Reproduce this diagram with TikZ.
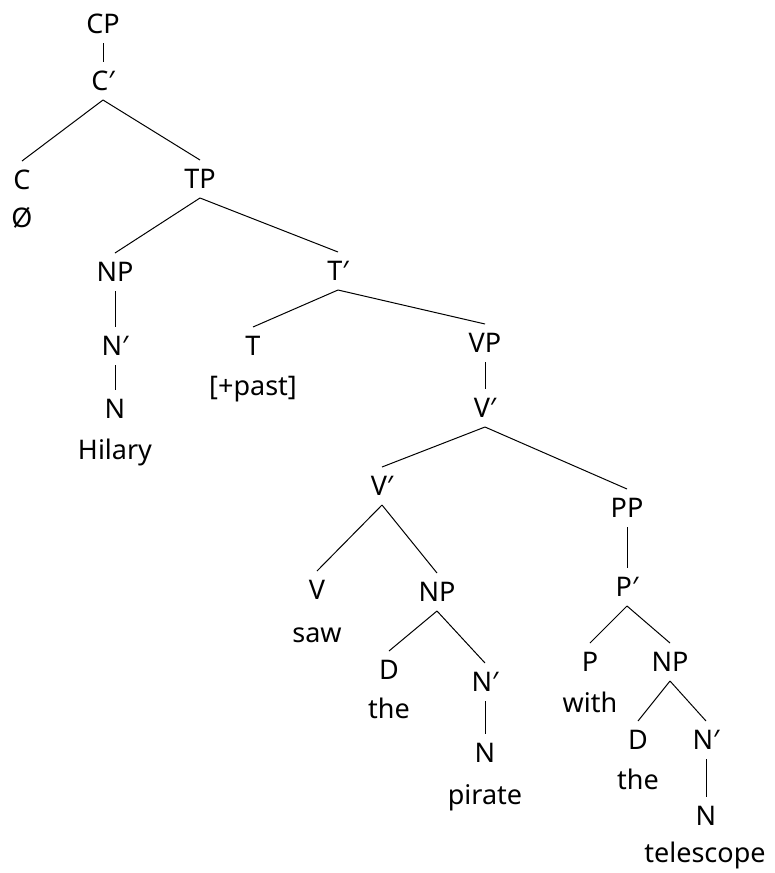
\documentclass[tikz,border=0pt]{standalone}
\usepackage{fontspec}
\setmainfont{Noto Sans}
\usepackage{tikz}
\usetikzlibrary{positioning}

\begin{document}
\begin{tikzpicture}[x=1pt, y=-1pt, line width=1pt]
    \tikzstyle{lbl}=[inner xsep=2pt, inner ysep=9pt, text height=19pt, text depth=0pt, font=\fontsize{27}{32}\selectfont]
    \useasboundingbox (0,0) rectangle (775,873);
    % CP and C'
    \node[lbl] (cp) at (103,24) {CP};
    \node[lbl] (cbar) at (103,81) {C′};
    \node[lbl] (c) at (22,180) {C};
    \node[lbl] (cnull) at (22,218) {Ø};
    \draw (cp.south) -- (cbar.north);
    \draw (cbar.south) -- (c.north);
    % TP, subject and T'
    \node[lbl] (tp) at (200,179) {TP};
    \node[lbl] (np) at (115,272) {NP};
    \node[lbl] (nbar) at (115,346) {N′};
    \node[lbl] (n) at (115,409) {N};
    \node[lbl] (hilary) at (115,450) {Hilary};
    \node[lbl] (tbar) at (338,271) {T′};
    \node[lbl] (t) at (253,346) {T};
    \node[lbl] (past) at (253,386) {[+past]};
    \draw (cbar.south) -- (tp.north);
    \draw (tp.south) -- (np.north);
    \draw (tp.south) -- (tbar.north);
    \draw (np.south) -- (nbar.north);
    \draw (nbar.south) -- (n.north);
    \draw (tbar.south) -- (t.north);
    % VP
    \node[lbl] (vp) at (485,343) {VP};
    \node[lbl] (vbar) at (485,408) {V′};
    \node[lbl] (vbarb) at (382,486) {V′};
    \node[lbl] (v) at (317,590) {V};
    \node[lbl] (saw) at (317,633) {saw};
    \node[lbl] (npb) at (437,592) {NP};
    \node[lbl] (d) at (389,670) {D};
    \node[lbl] (the) at (389,709) {the};
    \node[lbl] (nbarb) at (485,682) {N′};
    \node[lbl] (nb) at (485,753) {N};
    \node[lbl] (pirate) at (485,795) {pirate};
    \draw (tbar.south) -- (vp.north);
    \draw (vp.south) -- (vbar.north);
    \draw (vbar.south) -- (vbarb.north);
    \draw (vbarb.south) -- (v.north);
    \draw (vbarb.south) -- (npb.north);
    \draw (npb.south) -- (d.north);
    \draw (npb.south) -- (nbarb.north);
    \draw (nbarb.south) -- (nb.north);
    % PP adjunct
    \node[lbl] (pp) at (627,508) {PP};
    \node[lbl] (pbar) at (627,587) {P′};
    \node[lbl] (p) at (590,662) {P};
    \node[lbl] (with) at (590,703) {with};
    \node[lbl] (npc) at (670,662) {NP};
    \node[lbl] (dc) at (638,740) {D};
    \node[lbl] (thec) at (638,780) {the};
    \node[lbl] (nbarc) at (706,740) {N′};
    \node[lbl] (nc) at (706,816) {N};
    \node[lbl] (telescope) at (705,853) {telescope};
    \draw (vbar.south) -- (pp.north);
    \draw (pp.south) -- (pbar.north);
    \draw (pbar.south) -- (p.north);
    \draw (pbar.south) -- (npc.north);
    \draw (npc.south) -- (dc.north);
    \draw (npc.south) -- (nbarc.north);
    \draw (nbarc.south) -- (nc.north);
\end{tikzpicture}
\end{document}
